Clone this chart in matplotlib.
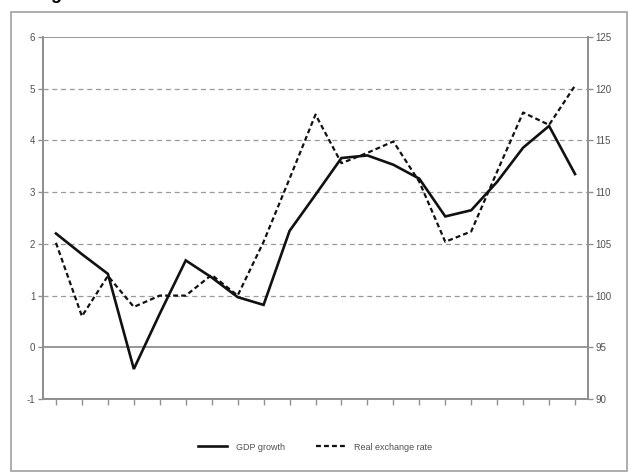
import matplotlib
matplotlib.use("Agg")
import matplotlib.pyplot as plt
from matplotlib.patches import Rectangle

plt.rcParams['font.family'] = ['Liberation Sans', 'DejaVu Sans']

# Series values (21 periods)
periods = list(range(21))
gdp_growth = [2.2, 1.8, 1.42, -0.42, 0.65, 1.68, 1.35, 0.97, 0.82, 2.25, 2.95,
              3.66, 3.71, 3.53, 3.26, 2.53, 2.65, 3.2, 3.86, 4.28, 3.35]
real_exchange_rate = [105.1, 98.0, 101.9, 98.9, 100.0, 100.0, 102.0, 100.0, 105.2,
                      111.3, 117.5, 112.8, 113.8, 114.9, 111.0, 105.2, 106.2,
                      112.0, 117.7, 116.5, 120.3]
left_ticks = [-1, 0, 1, 2, 3, 4, 5, 6]
right_ticks = [90, 95, 100, 105, 110, 115, 120, 125]

W, H = 629, 473
fig = plt.figure(figsize=(W / 100, H / 100), dpi=100)

def fx(px):
    return px / W

def fy(py):
    return 1 - py / H

# outer frame
fig.patches.append(Rectangle((fx(11), fy(471)), fx(616), 459 / H,
                             transform=fig.transFigure, fill=False,
                             edgecolor='#a0a0a0', linewidth=1.2))
# heading, mostly above the visible area
fig.text(fx(36), fy(-1), "Figure", fontsize=13, fontweight='bold',
         color='black', va='baseline', ha='left')

ax = fig.add_axes([fx(43), fy(399), fx(588 - 43), (399 - 37) / H])
ax2 = ax.twinx()

spine_c = '#909090'
grid_c = '#9a9a9a'
lab_c = '#505050'

ax.set_xlim(-0.5, 20.5)
ax.set_ylim(-1, 6)
ax2.set_ylim(90, 125)

for v in left_ticks[1:-1]:
    if v == 0:
        ax.axhline(v, color=spine_c, linewidth=1.3, zorder=1)
    else:
        ax.axhline(v, color=grid_c, linewidth=0.9, linestyle=(0, (4, 3)), zorder=1)
ax.axhline(6, color=spine_c, linewidth=1.3, zorder=1)

ax.plot(periods, gdp_growth, color='#111111', linewidth=1.9, zorder=4,
        label='GDP growth', solid_joinstyle='miter')
ax2.plot(periods, real_exchange_rate, color='#111111', linewidth=1.6,
         linestyle=(0, (2.2, 1.4)), zorder=4, label='Real exchange rate')

ax.set_xticks(periods)
ax.set_xticklabels([])
ax.set_yticks(left_ticks)
ax.set_yticklabels([str(v) for v in left_ticks])
ax2.set_yticks(right_ticks)
ax2.set_yticklabels([str(v) for v in right_ticks])

ax.tick_params(axis='x', direction='out', length=4.5, width=1.0, color=spine_c)
ax.tick_params(axis='y', direction='out', length=3.5, width=1.0, color=spine_c,
               labelsize=7, labelcolor=lab_c, pad=2)
ax2.tick_params(axis='y', direction='out', length=3.5, width=1.0, color=spine_c,
                labelsize=7, labelcolor=lab_c, pad=2)

for a in (ax, ax2):
    for s in a.spines.values():
        s.set_color(spine_c)
        s.set_linewidth(1.3)
    a.spines['top'].set_visible(False)

h1, l1 = ax.get_legend_handles_labels()
h2, l2 = ax2.get_legend_handles_labels()
fig.legend(h1 + h2, l1 + l2, loc='center', bbox_to_anchor=(fx(315), fy(447)),
           ncol=2, frameon=False, fontsize=6.5, handlelength=3.2,
           columnspacing=3.5, handletextpad=1.0, labelcolor=lab_c)

fig.savefig('out.png', dpi=100)
